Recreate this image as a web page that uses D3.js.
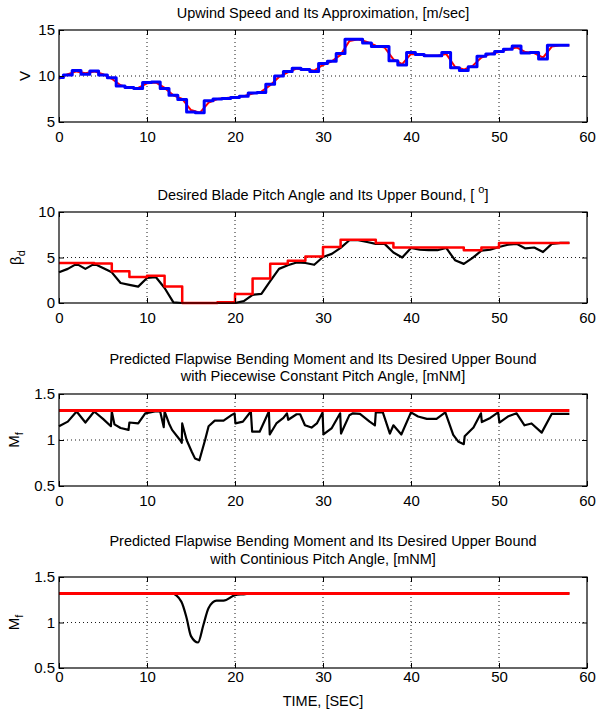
<!DOCTYPE html>
<html>
<head>
<meta charset="utf-8">
<script src="https://cdn.jsdelivr.net/npm/d3@7"></script>
<style>
  body { margin: 0; background: #fff; }
  svg { display: block; font-family: "Liberation Sans", Arial, sans-serif; }
</style>
</head>
<body>
<div id="chart"></div>
<script>
// ---- data ----
const timeTicks = [0, 10, 20, 30, 40, 50, 60]

// one sample per second
const secTime = [0,1,2,3,4,5,6,7,8,9,10,11,12,13,14,15,16,17,18,19,20,21,22,23,24,25,26,27,28,29,
  30,31,32,33,34,35,36,37,38,39,40,41,42,43,44,45,46,47,48,49,50,51,52,53,54,55,56,57,58]

// panel 1: upwind speed (red) and its step approximation (blue)
const windActual = [9.7,10.2,10.5,10.3,10.5,10.2,9.7,9.0,8.7,8.7,9.2,9.3,8.7,7.9,7.5,6.3,6.0,7.1,7.5,7.6,
  7.7,7.8,8.1,8.3,9.0,9.9,10.4,10.8,10.7,10.6,11.2,11.6,12.3,13.8,14.0,13.7,13.3,13.1,11.8,11.3,
  12.4,12.3,12.2,12.2,12.4,11.0,10.7,11.1,12.0,12.4,12.6,12.9,13.1,12.6,12.5,12.0,13.2,13.35,13.35]
const windApprox = [9.84,10.1,10.6,10.2,10.55,10.1,9.8,8.9,8.75,8.65,9.3,9.35,8.65,7.9,7.45,6.1,6.0,7.3,7.5,7.55,
  7.65,7.8,8.15,8.2,9.1,10.0,10.5,10.85,10.7,10.5,11.35,11.6,12.45,14.0,14.0,13.6,13.2,13.2,11.65,11.2,
  12.55,12.35,12.2,12.2,12.55,10.9,10.6,11.0,12.15,12.4,12.65,12.9,13.25,12.5,12.55,11.85,13.35,13.35,13.35]

// panel 2: desired pitch (black) and its 2-second upper bound (red)
const pitchDesired = [3.37,3.75,4.3,3.75,4.3,3.85,3.37,2.2,2.0,1.8,2.75,2.85,1.65,0.07,0,0,0,0,0,0,
  0,0.2,0.9,1.0,2.4,3.75,4.15,4.45,4.4,4.2,5.05,5.4,6.05,6.9,6.9,6.7,6.5,6.5,5.55,5.0,
  6.05,5.85,5.8,5.8,6.05,4.7,4.3,4.95,5.75,5.85,6.15,6.4,6.5,6.0,6.1,5.6,6.5,6.6,6.6]
const boundTime = [0,2,4,6,8,10,12,14,16,18,20,22,24,26,28,30,32,34,36,38,40,42,44,46,48,50,52,54,56,58]
const pitchBound = [4.4,4.4,4.35,3.5,2.85,3.0,1.8,0,0,0.07,1.0,2.7,4.3,4.65,5.1,6.15,6.95,6.95,6.6,6.1,
  6.1,6.1,6.1,5.8,6.1,6.6,6.6,6.6,6.6,6.6]

// panel 3: flapwise moment with piecewise constant pitch
const mfPieceTime = [0,1,2,3,4,5,5.9,6.0,6.3,7,7.9,8.0,9,9.8,10.9,11.5,11.9,12.0,12.5,12.85,
  13.75,13.95,14.0,14.5,15.1,15.45,15.95,16.6,17.0,17.7,18.7,19.6,19.95,20.05,20.9,21.8,21.95,22.8,23.85,23.95,
  24.7,25.5,25.9,26.05,27.0,27.4,27.95,28.7,29.3,29.95,30.05,31,31.95,32.05,33,33.4,34.2,35.3,35.9,36.0,
  36.8,37.6,38.0,38.9,40,40.8,41.8,42.9,43.9,44.8,45.4,46.0,46.1,47.1,47.95,48.05,49,49.9,50.05,51,
  52,52.9,53.7,54.85,56,58]
const mfPiece = [1.15,1.20,1.31,1.19,1.31,1.23,1.15,1.31,1.17,1.13,1.11,1.19,1.18,1.29,1.31,1.31,1.14,1.31,1.18,1.11,
  1.0,0.97,1.18,1.0,0.87,0.80,0.78,1.0,1.15,1.21,1.21,1.27,1.29,1.18,1.20,1.31,1.09,1.09,1.31,1.06,
  1.18,1.24,1.29,1.22,1.28,1.28,1.16,1.135,1.18,1.30,1.06,1.13,1.29,1.07,1.27,1.29,1.285,1.20,1.16,1.30,
  1.30,1.07,1.16,1.06,1.30,1.255,1.23,1.23,1.30,1.055,0.98,0.955,1.04,1.135,1.29,1.195,1.24,1.30,1.19,1.255,
  1.29,1.16,1.18,1.08,1.285,1.285]

// panel 4: flapwise moment with continuous pitch
const mfContTime = [0,12.8,13.9,14.5,15.0,15.8,16.4,17.0,17.9,18.7,20.0,21.0,22.0,58]
const mfCont = [1.32,1.32,1.23,1.05,0.85,0.78,0.97,1.16,1.24,1.24,1.30,1.31,1.32,1.32]

// desired upper bound of the moment
const mfBoundTime = [0, 58]
const mfBound = [1.32, 1.32]

// ---- layout ----
const width = 596
const height = 715
const left = 59
const right = 587

const svg = d3.select("#chart")
  .append("svg")
    .attr("width", width)
    .attr("height", height)

const x = d3.scaleLinear().domain([0, 60]).range([left, right])
const midX = (left + right) / 2

const zip = (ts, vs) => ts.map((t, i) => [t, vs[i]])

const panels = [
  {
    top: 30, bottom: 122, domain: [5, 15], yTicks: [5, 10, 15], labelGap: 9,
    titles: [{text: "Upwind Speed and Its Approximation, [m/sec]", y: 17.5}],
    ylabel: {main: "V", sub: null, x: 30},
    series: [
      {data: zip(secTime, windActual), color: "#ff0000", width: 2, curve: d3.curveLinear},
      {data: zip(secTime, windApprox), color: "#0000ff", width: 3, curve: d3.curveStep},
    ],
  },
  {
    top: 212, bottom: 303, domain: [0, 10], yTicks: [0, 5, 10], labelGap: 9.5,
    titles: [{text: "Desired Blade Pitch Angle and Its Upper Bound, [ ", sup: "o", after: "]", y: 200}],
    ylabel: {main: "β", sub: "d", x: 21},
    series: [
      {data: zip(secTime, pitchDesired), color: "#000", width: 2.2, curve: d3.curveLinear},
      {data: zip(boundTime, pitchBound), color: "#ff0000", width: 2.5, curve: d3.curveStepAfter},
    ],
  },
  {
    top: 394, bottom: 486, domain: [0.5, 1.5], yTicks: [0.5, 1, 1.5], labelGap: 9,
    titles: [
      {text: "Predicted Flapwise Bending Moment and Its Desired Upper Bound", y: 364},
      {text: "with Piecewise Constant Pitch Angle, [mNM]", y: 381},
    ],
    ylabel: {main: "M", sub: "f", x: 18.5},
    series: [
      {data: zip(mfPieceTime, mfPiece), color: "#000", width: 2.2, curve: d3.curveLinear},
      {data: zip(mfBoundTime, mfBound), color: "#ff0000", width: 3, curve: d3.curveLinear},
    ],
  },
  {
    top: 577, bottom: 668, domain: [0.5, 1.5], yTicks: [0.5, 1, 1.5], labelGap: 3.5,
    titles: [
      {text: "Predicted Flapwise Bending Moment and Its Desired Upper Bound", y: 546},
      {text: "with Continious Pitch Angle, [mNM]", y: 563.5},
    ],
    ylabel: {main: "M", sub: "f", x: 18.5},
    series: [
      {data: zip(mfContTime, mfCont), color: "#000", width: 2.2, curve: d3.curveMonotoneX},
      {data: zip(mfBoundTime, mfBound), color: "#ff0000", width: 3, curve: d3.curveLinear},
    ],
  },
]

function drawPanel(p) {
  const y = d3.scaleLinear().domain(p.domain).range([p.bottom, p.top])
  const g = svg.append("g")

  // dotted grid at the inner ticks
  const grid = g.append("g")
    .attr("stroke", "#000")
    .attr("stroke-width", 0.9)
    .attr("stroke-dasharray", "1,3")
  grid.selectAll("line.gx")
    .data(timeTicks.slice(1, -1))
    .join("line")
      .attr("class", "gx")
      .attr("x1", d => x(d)).attr("x2", d => x(d))
      .attr("y1", p.top).attr("y2", p.bottom)
  grid.selectAll("line.gy")
    .data(p.yTicks.slice(1, -1))
    .join("line")
      .attr("class", "gy")
      .attr("x1", left).attr("x2", right)
      .attr("y1", d => y(d)).attr("y2", d => y(d))

  // data lines
  p.series.forEach(s => {
    const line = d3.line()
      .x(d => x(d[0]))
      .y(d => y(d[1]))
      .curve(s.curve)
    g.append("path")
      .datum(s.data)
      .attr("d", line)
      .attr("fill", "none")
      .attr("stroke", s.color)
      .attr("stroke-width", s.width)
      .attr("stroke-linejoin", "round")
  })

  // axes, ticks pointing inward
  const fmt = d3.format("")
  const bottomAxis = d3.axisBottom(x).tickValues(timeTicks).tickSize(-5).tickPadding(p.labelGap).tickFormat(fmt)
  const topAxis = d3.axisTop(x).tickValues(timeTicks).tickSize(-5).tickFormat("")
  const leftAxis = d3.axisLeft(y).tickValues(p.yTicks).tickSize(-5).tickPadding(4).tickFormat(fmt)
  const rightAxis = d3.axisRight(y).tickValues(p.yTicks).tickSize(-5).tickFormat("")

  const axes = [
    g.append("g").attr("transform", `translate(0,${p.bottom})`).call(bottomAxis),
    g.append("g").attr("transform", `translate(0,${p.top})`).call(topAxis),
    g.append("g").attr("transform", `translate(${left},0)`).call(leftAxis),
    g.append("g").attr("transform", `translate(${right},0)`).call(rightAxis),
  ]
  axes.forEach(a => {
    a.select(".domain").remove()
    a.selectAll("line").attr("stroke", "#000").attr("stroke-width", 1)
    a.selectAll("text")
      .attr("fill", "#000")
      .style("font-size", "15px")
      .style("font-family", "'Liberation Sans', Arial, sans-serif")
  })

  // frame
  g.append("rect")
    .attr("x", left).attr("y", p.top)
    .attr("width", right - left).attr("height", p.bottom - p.top)
    .attr("fill", "none")
    .attr("stroke", "#000")
    .attr("stroke-width", 1.2)

  // titles
  p.titles.forEach(t => {
    const txt = svg.append("text")
      .attr("x", midX)
      .attr("y", t.y)
      .attr("text-anchor", "middle")
      .style("font-size", "14.5px")
      .text(t.text)
    if (t.sup) {
      txt.append("tspan").attr("dy", -7).style("font-size", "11px").text(t.sup)
      txt.append("tspan").attr("dy", 7).text(t.after)
    }
  })

  // y label, rotated
  const yl = svg.append("text")
    .attr("transform", `translate(${p.ylabel.x},${(p.top + p.bottom) / 2}) rotate(-90)`)
    .attr("text-anchor", "middle")
    .style("font-size", "15px")
    .text(p.ylabel.main)
  if (p.ylabel.sub) {
    yl.append("tspan").attr("dy", 4).style("font-size", "11px").text(p.ylabel.sub)
  }
}

panels.forEach(drawPanel)

// x axis label under the last panel
svg.append("text")
  .attr("x", midX)
  .attr("y", 706)
  .attr("text-anchor", "middle")
  .style("font-size", "14.5px")
  .text("TIME, [SEC]")
</script>
</body>
</html>
